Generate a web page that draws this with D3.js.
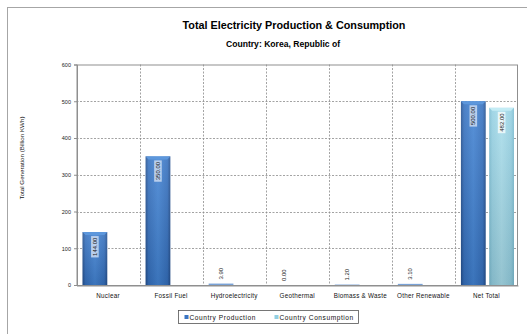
<!DOCTYPE html>
<html>
<head>
<meta charset="utf-8">
<script src="https://cdn.jsdelivr.net/npm/d3@7"></script>
<style>
  html, body { margin: 0; padding: 0; background: #fff; }
  svg { display: block; font-family: "Liberation Sans", Arial, sans-serif; }
</style>
</head>
<body>
<svg id="chart" width="527" height="334"></svg>
<script>
// Electricity production / consumption by source (billion kWh)
const categories = ["Nuclear", "Fossil Fuel", "Hydroelectricity", "Geothermal", "Biomass & Waste", "Other Renewable", "Net Total"];
const production = [144.0, 350.0, 3.9, 0.0, 1.2, 3.1, 500.0];
const consumption = [null, null, null, null, null, null, 482.0];
const seriesNames = ["Country Production", "Country Consumption"];
const yTicks = [0, 100, 200, 300, 400, 500, 600];

const svg = d3.select("#chart");
const defs = svg.append("defs");

const plot = { left: 76.5, right: 518, top: 64.5, bottom: 285 };

const x0 = d3.scaleBand().domain(categories).range([plot.left, plot.right]).paddingInner(0).paddingOuter(0);
const x1 = d3.scaleBand().domain([0, 1]).range([6, x0.bandwidth() - 4]).paddingInner(0.125).paddingOuter(0);
const y = d3.scaleLinear().domain([0, 600]).range([plot.bottom, plot.top]);

// outer chart frame
svg.append("rect").attr("x", 7.5).attr("y", 7.5).attr("width", 540).attr("height", 340)
  .attr("fill", "#fff").attr("stroke", "#a6a6a6").attr("stroke-width", 1);

// titles
svg.append("text").attr("x", 294).attr("y", 29).attr("text-anchor", "middle")
  .attr("font-size", 10.8).attr("font-weight", "bold").attr("fill", "#000")
  .text("Total Electricity Production & Consumption");
svg.append("text").attr("x", 283).attr("y", 47).attr("text-anchor", "middle")
  .attr("font-size", 8.6).attr("font-weight", "bold").attr("fill", "#000")
  .text("Country: Korea, Republic of");

// gradients for the bar faces
function barGradient(id, edge, mid, centre) {
  const g = defs.append("linearGradient").attr("id", id).attr("x1", "0").attr("x2", "1").attr("y1", "0").attr("y2", "0");
  g.append("stop").attr("offset", "0").attr("stop-color", edge);
  g.append("stop").attr("offset", "0.12").attr("stop-color", mid);
  g.append("stop").attr("offset", "0.5").attr("stop-color", centre);
  g.append("stop").attr("offset", "0.88").attr("stop-color", mid);
  g.append("stop").attr("offset", "1").attr("stop-color", edge);
}
barGradient("gProd", "#24508f", "#3570be", "#4384d4");
barGradient("gCons", "#7cbdd2", "#95d0e2", "#a9deec");
const shade = defs.append("linearGradient").attr("id", "gShade").attr("x1", "0").attr("x2", "0").attr("y1", "0").attr("y2", "1");
shade.append("stop").attr("offset", "0").attr("stop-color", "#fff").attr("stop-opacity", 0.12);
shade.append("stop").attr("offset", "1").attr("stop-color", "#000").attr("stop-opacity", 0.12);

// plot background
svg.append("rect").attr("x", plot.left).attr("y", plot.top)
  .attr("width", plot.right - plot.left).attr("height", plot.bottom - plot.top).attr("fill", "#fff");

// horizontal gridlines
svg.append("g").selectAll("line").data(yTicks.filter(t => t > 0 && t < 600)).join("line")
  .attr("x1", plot.left).attr("x2", plot.right)
  .attr("y1", d => Math.round(y(d)) + 0.5).attr("y2", d => Math.round(y(d)) + 0.5)
  .attr("stroke", "#8c8c8c").attr("stroke-width", 0.8).attr("stroke-dasharray", "2,1.5");

// vertical gridlines at category boundaries
svg.append("g").selectAll("line").data(categories.slice(1)).join("line")
  .attr("x1", d => Math.round(x0(d)) + 0.5).attr("x2", d => Math.round(x0(d)) + 0.5)
  .attr("y1", plot.top).attr("y2", plot.bottom)
  .attr("stroke", "#8c8c8c").attr("stroke-width", 0.8).attr("stroke-dasharray", "2,1.5");

// plot frame
svg.append("rect").attr("x", plot.left + 0.5).attr("y", plot.top + 0.5)
  .attr("width", plot.right - plot.left - 1).attr("height", plot.bottom - plot.top)
  .attr("fill", "none").attr("stroke", "#8f8f8f").attr("stroke-width", 1);

// y axis
const yAxis = d3.axisLeft(y).tickValues(yTicks).tickSize(3).tickPadding(3).tickFormat(d3.format("d"));
const gy = svg.append("g").attr("transform", `translate(${plot.left + 0.5},0)`).call(yAxis);
gy.select(".domain").attr("stroke", "#8f8f8f");
gy.selectAll(".tick line").attr("stroke", "#8f8f8f");
gy.selectAll(".tick text").attr("font-size", 5.5).attr("fill", "#222").attr("font-family", "Liberation Sans, Arial, sans-serif");

// x axis
const xAxis = d3.axisBottom(x0).tickSize(0).tickPadding(8);
const gx = svg.append("g").attr("transform", `translate(0,${plot.bottom + 0.5})`).call(xAxis);
gx.select(".domain").attr("stroke", "#8f8f8f");
gx.selectAll(".tick text").attr("font-size", 6.3).attr("fill", "#111")
  .attr("letter-spacing", 0.25).attr("font-family", "Liberation Sans, Arial, sans-serif");

// y axis title
svg.append("text").attr("transform", `translate(24,158) rotate(-90)`).attr("text-anchor", "middle")
  .attr("font-size", 6.2).attr("fill", "#111").text("Total Generation (Billion KWh)");

// bars
const rows = categories.map((c, i) => ({ cat: c, vals: [production[i], consumption[i]] }));
const groups = svg.append("g").selectAll("g").data(rows).join("g")
  .attr("transform", d => `translate(${x0(d.cat)},0)`);

const bars = groups.selectAll("g.bar").data(d => d.vals.map((v, s) => ({ v, s })).filter(e => e.v !== null))
  .join("g").attr("class", "bar");

bars.append("rect")
  .attr("x", d => x1(d.s)).attr("width", x1.bandwidth())
  .attr("y", d => y(d.v)).attr("height", d => y(0) - y(d.v))
  .attr("fill", d => d.s === 0 ? "url(#gProd)" : "url(#gCons)");
bars.filter(d => y(0) - y(d.v) > 6).append("rect")
  .attr("x", d => x1(d.s)).attr("width", x1.bandwidth())
  .attr("y", d => y(d.v)).attr("height", d => y(0) - y(d.v))
  .attr("fill", "url(#gShade)");
// top bevel
bars.filter(d => y(0) - y(d.v) > 6).append("path")
  .attr("d", d => {
    const xa = x1(d.s), xb = xa + x1.bandwidth(), yt = y(d.v);
    return `M${xa},${yt}L${xb},${yt}L${xb - 3},${yt + 3}L${xa + 3},${yt + 3}Z`;
  })
  .attr("fill", d => d.s === 0 ? "#5d97dc" : "#c4ecf5");
// thin bars for tiny values
bars.filter(d => y(0) - y(d.v) <= 6 && d.v > 0).select("rect")
  .attr("fill", d => d.s === 0 ? "#7aa3d8" : "#a9deec");

// value labels
const fmt = d3.format(".2f");
const labelSize = 6;
bars.each(function(d) {
  const g = d3.select(this);
  const cx = x1(d.s) + x1.bandwidth() / 2;
  const h = y(0) - y(d.v);
  const txt = fmt(d.v);
  if (h > 30) {
    const top = y(d.v) + 4;
    const t = g.append("text")
      .attr("font-size", labelSize).attr("fill", "#1a1a1a").attr("text-anchor", "end")
      .attr("transform", `translate(${cx + 2.1},${top + 1.5}) rotate(-90)`)
      .text(txt);
    const w = t.node().getComputedTextLength();
    g.insert("rect", "text")
      .attr("x", cx - 3.8).attr("y", top).attr("width", 7.6).attr("height", w + 3)
      .attr("fill", d.s === 0 ? "#c3d5ee" : "#eef8fb").attr("fill-opacity", 0.9);
  } else {
    g.append("text")
      .attr("font-size", labelSize).attr("fill", "#1a1a1a").attr("text-anchor", "start")
      .attr("transform", `translate(${cx + 2.1},${y(d.v) - 4}) rotate(-90)`)
      .text(txt);
  }
});

// legend
const legend = svg.append("g").attr("transform", "translate(178.5,310.5)");
legend.append("rect").attr("width", 180).attr("height", 13).attr("fill", "#fff").attr("stroke", "#555").attr("stroke-width", 0.8);
const legendItems = [
  { name: seriesNames[0], color: "#3a74c2", x: 6 },
  { name: seriesNames[1], color: "#92cfe2", x: 96 }
];
const li = legend.selectAll("g.item").data(legendItems).join("g").attr("class", "item")
  .attr("transform", d => `translate(${d.x},0)`);
li.append("rect").attr("x", 0).attr("y", 4.5).attr("width", 4).attr("height", 4).attr("fill", d => d.color);
li.append("text").attr("x", 5).attr("y", 9).attr("font-size", 6.6).attr("fill", "#111")
  .attr("letter-spacing", 0.55).text(d => d.name);
</script>
</body>
</html>
